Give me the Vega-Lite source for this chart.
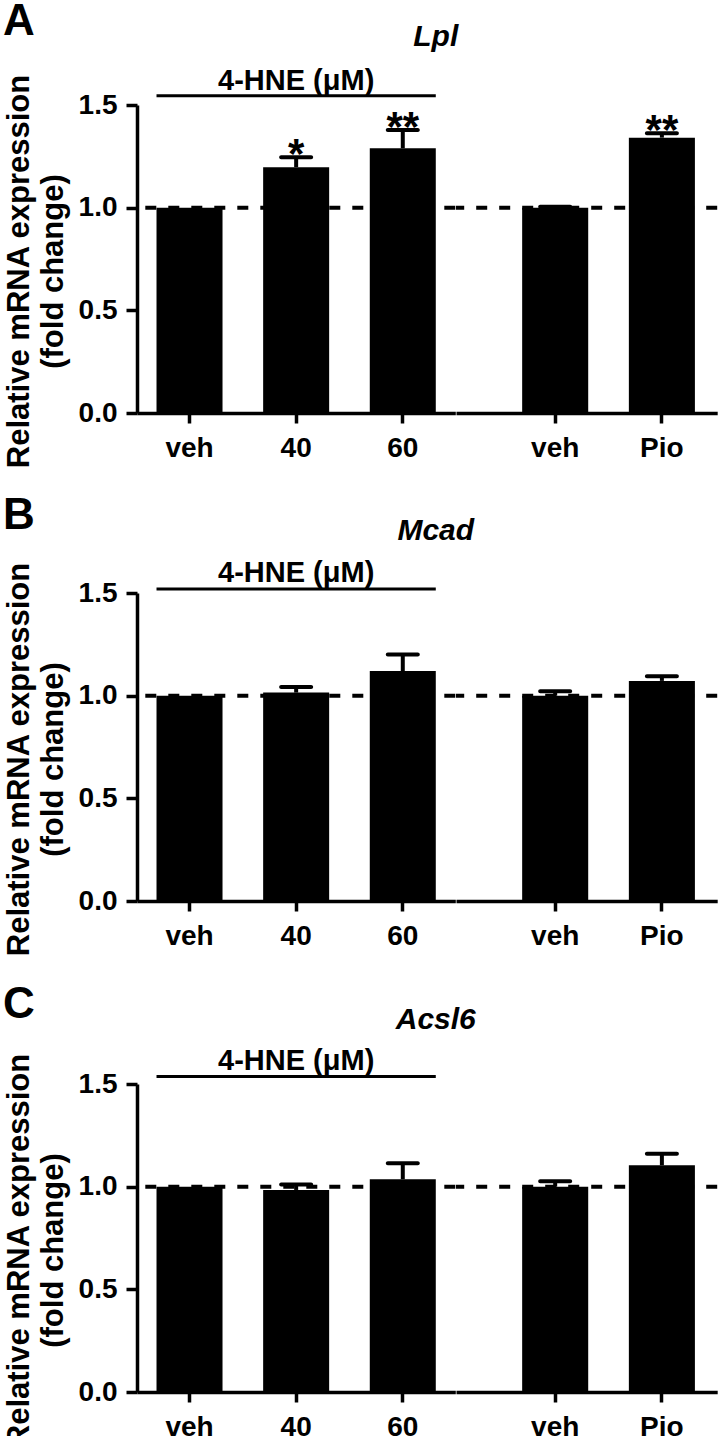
{
  "$schema": "https://vega.github.io/schema/vega-lite/v6.json",
  "padding": {"left": 3, "top": 0, "right": 0, "bottom": 0},
  "config": {
    "font": "Liberation Sans",
    "view": {"stroke": null},
    "axis": {"domainColor": "black", "domainWidth": 3.5, "tickColor": "black", "tickWidth": 3.5, "labelColor": "black", "labelFontSize": 28, "labelFontWeight": "bold", "grid": false, "titleColor": "black", "titleFontWeight": "bold", "titleFontSize": 31},
    "axisX": {"tickSize": 10, "labelPadding": 11, "labelAngle": 0},
    "axisY": {"tickSize": 11, "labelPadding": 9, "titleLineHeight": 34, "titlePadding": 9, "titleY": 166},
    "title": {"color": "black"},
    "tick": {"opacity": 1}
  },
  "datasets": {
    "expr": [
      {"gene": "Lpl", "group": "4-HNE", "treatment": "veh", "mean": 1.0, "upper": null, "sig": ""},
      {"gene": "Lpl", "group": "4-HNE", "treatment": "40", "mean": 1.197, "upper": 1.245, "sig": "*"},
      {"gene": "Lpl", "group": "4-HNE", "treatment": "60", "mean": 1.289, "upper": 1.378, "sig": "**"},
      {"gene": "Lpl", "group": "Pio", "treatment": "veh", "mean": 1.0, "upper": 1.005, "sig": ""},
      {"gene": "Lpl", "group": "Pio", "treatment": "Pio", "mean": 1.341, "upper": 1.362, "sig": "**"},
      {"gene": "Mcad", "group": "4-HNE", "treatment": "veh", "mean": 1.0, "upper": null, "sig": ""},
      {"gene": "Mcad", "group": "4-HNE", "treatment": "40", "mean": 1.015, "upper": 1.042, "sig": ""},
      {"gene": "Mcad", "group": "4-HNE", "treatment": "60", "mean": 1.12, "upper": 1.2, "sig": ""},
      {"gene": "Mcad", "group": "Pio", "treatment": "veh", "mean": 1.0, "upper": 1.022, "sig": ""},
      {"gene": "Mcad", "group": "Pio", "treatment": "Pio", "mean": 1.072, "upper": 1.095, "sig": ""},
      {"gene": "Acsl6", "group": "4-HNE", "treatment": "veh", "mean": 1.0, "upper": null, "sig": ""},
      {"gene": "Acsl6", "group": "4-HNE", "treatment": "40", "mean": 0.984, "upper": 1.011, "sig": ""},
      {"gene": "Acsl6", "group": "4-HNE", "treatment": "60", "mean": 1.036, "upper": 1.114, "sig": ""},
      {"gene": "Acsl6", "group": "Pio", "treatment": "veh", "mean": 1.0, "upper": 1.026, "sig": ""},
      {"gene": "Acsl6", "group": "Pio", "treatment": "Pio", "mean": 1.104, "upper": 1.16, "sig": ""}
    ]
  },
  "data": {"name": "expr"},
  "spacing": 25,
  "vconcat": [
    {
      "title": {"text": "A", "anchor": "start", "frame": "bounds", "fontSize": 44, "fontWeight": "bold", "offset": -22},
      "spacing": 0, "bounds": "flush",
      "hconcat": [
        {
          "width": 318.3, "height": 308,
          "transform": [{"filter": "datum.gene === 'Lpl' && datum.group === '4-HNE'"}],
          "layer": [
            {"data": {"values": [{}]}, "mark": {"type": "rule", "strokeDash": [11, 12], "strokeWidth": 4, "color": "black"}, "encoding": {"y": {"datum": 1, "scale": {"domain": [0, 1.5], "nice": false}}}},
            {"mark": {"type": "bar", "color": "black"}, "encoding": {
              "x": {"field": "treatment", "type": "nominal", "title": null, "scale": {"domain": ["veh", "40", "60"], "paddingInner": 0.381, "paddingOuter": 0.183}},
              "y": {"field": "mean", "type": "quantitative", "scale": {"domain": [0, 1.5], "nice": false}, "axis": {"title": ["Relative mRNA expression", "(fold change)"], "values": [0, 0.5, 1, 1.5], "format": ".1f"}}}},
            {"transform": [{"filter": "datum.upper != null"}], "mark": {"type": "rule", "strokeWidth": 4, "color": "black"}, "encoding": {
              "x": {"field": "treatment", "type": "nominal", "title": null},
              "y": {"field": "mean", "type": "quantitative", "scale": {"domain": [0, 1.5], "nice": false}}, "y2": {"field": "upper"}}},
            {"transform": [{"filter": "datum.upper != null"}], "mark": {"type": "tick", "orient": "horizontal", "size": 34, "thickness": 4, "color": "black", "cornerRadius": 2}, "encoding": {
              "x": {"field": "treatment", "type": "nominal", "title": null},
              "y": {"field": "upper", "type": "quantitative", "scale": {"domain": [0, 1.5], "nice": false}}}},
            {"transform": [{"filter": "datum.sig != ''"}], "mark": {"type": "text", "fontSize": 42, "fontWeight": "bold", "dy": 10.5, "baseline": "alphabetic", "align": "center", "color": "black"}, "encoding": {
              "x": {"field": "treatment", "type": "nominal", "title": null},
              "y": {"field": "upper", "type": "quantitative", "scale": {"domain": [0, 1.5], "nice": false}}, "text": {"field": "sig"}}},
            {"data": {"values": [{}]}, "mark": {"type": "rule", "strokeWidth": 3, "color": "black"}, "encoding": {
              "x": {"datum": "veh", "bandPosition": 0, "title": null}, "x2": {"datum": "60", "bandPosition": 1},
              "y": {"datum": 1.545, "scale": {"domain": [0, 1.5], "nice": false}}}},
            {"data": {"values": [{"label": "4-HNE (μM)"}]}, "mark": {"type": "text", "fontSize": 29, "fontWeight": "bold", "baseline": "alphabetic", "align": "center", "color": "black"}, "encoding": {
              "x": {"datum": "40", "title": null},
              "y": {"datum": 1.574, "scale": {"domain": [0, 1.5], "nice": false}}, "text": {"field": "label"}}},
            {"data": {"values": [{"label": "Lpl"}]}, "mark": {"type": "text", "fontSize": 30, "fontWeight": "bold", "fontStyle": "italic", "baseline": "alphabetic", "align": "center", "color": "black"}, "encoding": {
              "x": {"datum": "60", "bandPosition": 1, "title": null},
              "y": {"datum": 1.787, "scale": {"domain": [0, 1.5], "nice": false}}, "text": {"field": "label"}}}
          ]
        },
        {
          "width": 261.2, "height": 308,
          "transform": [{"filter": "datum.gene === 'Lpl' && datum.group === 'Pio'"}],
          "layer": [
            {"data": {"values": [{}]}, "mark": {"type": "rule", "strokeDash": [11, 12], "strokeWidth": 4, "color": "black"}, "encoding": {"y": {"datum": 1, "scale": {"domain": [0, 1.5], "nice": false}, "axis": null}}},
            {"mark": {"type": "bar", "color": "black"}, "encoding": {
              "x": {"field": "treatment", "type": "nominal", "title": null, "scale": {"domain": ["veh", "Pio"], "paddingInner": 0.381, "paddingOuter": 0.4145, "align": 0.748}},
              "y": {"field": "mean", "type": "quantitative", "scale": {"domain": [0, 1.5], "nice": false}, "axis": null}}},
            {"transform": [{"filter": "datum.upper != null"}], "mark": {"type": "rule", "strokeWidth": 4, "color": "black"}, "encoding": {
              "x": {"field": "treatment", "type": "nominal", "title": null},
              "y": {"field": "mean", "type": "quantitative", "scale": {"domain": [0, 1.5], "nice": false}, "axis": null}, "y2": {"field": "upper"}}},
            {"transform": [{"filter": "datum.upper != null"}], "mark": {"type": "tick", "orient": "horizontal", "size": 34, "thickness": 4, "color": "black", "cornerRadius": 2}, "encoding": {
              "x": {"field": "treatment", "type": "nominal", "title": null},
              "y": {"field": "upper", "type": "quantitative", "scale": {"domain": [0, 1.5], "nice": false}, "axis": null}}},
            {"transform": [{"filter": "datum.sig != ''"}], "mark": {"type": "text", "fontSize": 42, "fontWeight": "bold", "dy": 10.5, "baseline": "alphabetic", "align": "center", "color": "black"}, "encoding": {
              "x": {"field": "treatment", "type": "nominal", "title": null},
              "y": {"field": "upper", "type": "quantitative", "scale": {"domain": [0, 1.5], "nice": false}, "axis": null}, "text": {"field": "sig"}}}
          ]
        }
      ]
    },
    {
      "title": {"text": "B", "anchor": "start", "frame": "bounds", "fontSize": 44, "fontWeight": "bold", "offset": -22},
      "spacing": 0, "bounds": "flush",
      "hconcat": [
        {
          "width": 318.3, "height": 308,
          "transform": [{"filter": "datum.gene === 'Mcad' && datum.group === '4-HNE'"}],
          "layer": [
            {"data": {"values": [{}]}, "mark": {"type": "rule", "strokeDash": [11, 12], "strokeWidth": 4, "color": "black"}, "encoding": {"y": {"datum": 1, "scale": {"domain": [0, 1.5], "nice": false}}}},
            {"mark": {"type": "bar", "color": "black"}, "encoding": {
              "x": {"field": "treatment", "type": "nominal", "title": null, "scale": {"domain": ["veh", "40", "60"], "paddingInner": 0.381, "paddingOuter": 0.183}},
              "y": {"field": "mean", "type": "quantitative", "scale": {"domain": [0, 1.5], "nice": false}, "axis": {"title": ["Relative mRNA expression", "(fold change)"], "values": [0, 0.5, 1, 1.5], "format": ".1f"}}}},
            {"transform": [{"filter": "datum.upper != null"}], "mark": {"type": "rule", "strokeWidth": 4, "color": "black"}, "encoding": {
              "x": {"field": "treatment", "type": "nominal", "title": null},
              "y": {"field": "mean", "type": "quantitative", "scale": {"domain": [0, 1.5], "nice": false}}, "y2": {"field": "upper"}}},
            {"transform": [{"filter": "datum.upper != null"}], "mark": {"type": "tick", "orient": "horizontal", "size": 34, "thickness": 4, "color": "black", "cornerRadius": 2}, "encoding": {
              "x": {"field": "treatment", "type": "nominal", "title": null},
              "y": {"field": "upper", "type": "quantitative", "scale": {"domain": [0, 1.5], "nice": false}}}},
            {"data": {"values": [{}]}, "mark": {"type": "rule", "strokeWidth": 3, "color": "black"}, "encoding": {
              "x": {"datum": "veh", "bandPosition": 0, "title": null}, "x2": {"datum": "60", "bandPosition": 1},
              "y": {"datum": 1.519, "scale": {"domain": [0, 1.5], "nice": false}}}},
            {"data": {"values": [{"label": "4-HNE (μM)"}]}, "mark": {"type": "text", "fontSize": 29, "fontWeight": "bold", "baseline": "alphabetic", "align": "center", "color": "black"}, "encoding": {
              "x": {"datum": "40", "title": null},
              "y": {"datum": 1.555, "scale": {"domain": [0, 1.5], "nice": false}}, "text": {"field": "label"}}},
            {"data": {"values": [{"label": "Mcad"}]}, "mark": {"type": "text", "fontSize": 30, "fontWeight": "bold", "fontStyle": "italic", "baseline": "alphabetic", "align": "center", "color": "black"}, "encoding": {
              "x": {"datum": "60", "bandPosition": 1, "title": null},
              "y": {"datum": 1.758, "scale": {"domain": [0, 1.5], "nice": false}}, "text": {"field": "label"}}}
          ]
        },
        {
          "width": 261.2, "height": 308,
          "transform": [{"filter": "datum.gene === 'Mcad' && datum.group === 'Pio'"}],
          "layer": [
            {"data": {"values": [{}]}, "mark": {"type": "rule", "strokeDash": [11, 12], "strokeWidth": 4, "color": "black"}, "encoding": {"y": {"datum": 1, "scale": {"domain": [0, 1.5], "nice": false}, "axis": null}}},
            {"mark": {"type": "bar", "color": "black"}, "encoding": {
              "x": {"field": "treatment", "type": "nominal", "title": null, "scale": {"domain": ["veh", "Pio"], "paddingInner": 0.381, "paddingOuter": 0.4145, "align": 0.748}},
              "y": {"field": "mean", "type": "quantitative", "scale": {"domain": [0, 1.5], "nice": false}, "axis": null}}},
            {"transform": [{"filter": "datum.upper != null"}], "mark": {"type": "rule", "strokeWidth": 4, "color": "black"}, "encoding": {
              "x": {"field": "treatment", "type": "nominal", "title": null},
              "y": {"field": "mean", "type": "quantitative", "scale": {"domain": [0, 1.5], "nice": false}, "axis": null}, "y2": {"field": "upper"}}},
            {"transform": [{"filter": "datum.upper != null"}], "mark": {"type": "tick", "orient": "horizontal", "size": 34, "thickness": 4, "color": "black", "cornerRadius": 2}, "encoding": {
              "x": {"field": "treatment", "type": "nominal", "title": null},
              "y": {"field": "upper", "type": "quantitative", "scale": {"domain": [0, 1.5], "nice": false}, "axis": null}}}
          ]
        }
      ]
    },
    {
      "title": {"text": "C", "anchor": "start", "frame": "bounds", "fontSize": 44, "fontWeight": "bold", "offset": -22},
      "spacing": 0, "bounds": "flush",
      "hconcat": [
        {
          "width": 318.3, "height": 308,
          "transform": [{"filter": "datum.gene === 'Acsl6' && datum.group === '4-HNE'"}],
          "layer": [
            {"data": {"values": [{}]}, "mark": {"type": "rule", "strokeDash": [11, 12], "strokeWidth": 4, "color": "black"}, "encoding": {"y": {"datum": 1, "scale": {"domain": [0, 1.5], "nice": false}}}},
            {"mark": {"type": "bar", "color": "black"}, "encoding": {
              "x": {"field": "treatment", "type": "nominal", "title": null, "scale": {"domain": ["veh", "40", "60"], "paddingInner": 0.381, "paddingOuter": 0.183}},
              "y": {"field": "mean", "type": "quantitative", "scale": {"domain": [0, 1.5], "nice": false}, "axis": {"title": ["Relative mRNA expression", "(fold change)"], "values": [0, 0.5, 1, 1.5], "format": ".1f"}}}},
            {"transform": [{"filter": "datum.upper != null"}], "mark": {"type": "rule", "strokeWidth": 4, "color": "black"}, "encoding": {
              "x": {"field": "treatment", "type": "nominal", "title": null},
              "y": {"field": "mean", "type": "quantitative", "scale": {"domain": [0, 1.5], "nice": false}}, "y2": {"field": "upper"}}},
            {"transform": [{"filter": "datum.upper != null"}], "mark": {"type": "tick", "orient": "horizontal", "size": 34, "thickness": 4, "color": "black", "cornerRadius": 2}, "encoding": {
              "x": {"field": "treatment", "type": "nominal", "title": null},
              "y": {"field": "upper", "type": "quantitative", "scale": {"domain": [0, 1.5], "nice": false}}}},
            {"data": {"values": [{}]}, "mark": {"type": "rule", "strokeWidth": 3, "color": "black"}, "encoding": {
              "x": {"datum": "veh", "bandPosition": 0, "title": null}, "x2": {"datum": "60", "bandPosition": 1},
              "y": {"datum": 1.537, "scale": {"domain": [0, 1.5], "nice": false}}}},
            {"data": {"values": [{"label": "4-HNE (μM)"}]}, "mark": {"type": "text", "fontSize": 29, "fontWeight": "bold", "baseline": "alphabetic", "align": "center", "color": "black"}, "encoding": {
              "x": {"datum": "40", "title": null},
              "y": {"datum": 1.568, "scale": {"domain": [0, 1.5], "nice": false}}, "text": {"field": "label"}}},
            {"data": {"values": [{"label": "Acsl6"}]}, "mark": {"type": "text", "fontSize": 30, "fontWeight": "bold", "fontStyle": "italic", "baseline": "alphabetic", "align": "center", "color": "black"}, "encoding": {
              "x": {"datum": "60", "bandPosition": 1, "title": null},
              "y": {"datum": 1.768, "scale": {"domain": [0, 1.5], "nice": false}}, "text": {"field": "label"}}}
          ]
        },
        {
          "width": 261.2, "height": 308,
          "transform": [{"filter": "datum.gene === 'Acsl6' && datum.group === 'Pio'"}],
          "layer": [
            {"data": {"values": [{}]}, "mark": {"type": "rule", "strokeDash": [11, 12], "strokeWidth": 4, "color": "black"}, "encoding": {"y": {"datum": 1, "scale": {"domain": [0, 1.5], "nice": false}, "axis": null}}},
            {"mark": {"type": "bar", "color": "black"}, "encoding": {
              "x": {"field": "treatment", "type": "nominal", "title": null, "scale": {"domain": ["veh", "Pio"], "paddingInner": 0.381, "paddingOuter": 0.4145, "align": 0.748}},
              "y": {"field": "mean", "type": "quantitative", "scale": {"domain": [0, 1.5], "nice": false}, "axis": null}}},
            {"transform": [{"filter": "datum.upper != null"}], "mark": {"type": "rule", "strokeWidth": 4, "color": "black"}, "encoding": {
              "x": {"field": "treatment", "type": "nominal", "title": null},
              "y": {"field": "mean", "type": "quantitative", "scale": {"domain": [0, 1.5], "nice": false}, "axis": null}, "y2": {"field": "upper"}}},
            {"transform": [{"filter": "datum.upper != null"}], "mark": {"type": "tick", "orient": "horizontal", "size": 34, "thickness": 4, "color": "black", "cornerRadius": 2}, "encoding": {
              "x": {"field": "treatment", "type": "nominal", "title": null},
              "y": {"field": "upper", "type": "quantitative", "scale": {"domain": [0, 1.5], "nice": false}, "axis": null}}}
          ]
        }
      ]
    }
  ]
}
